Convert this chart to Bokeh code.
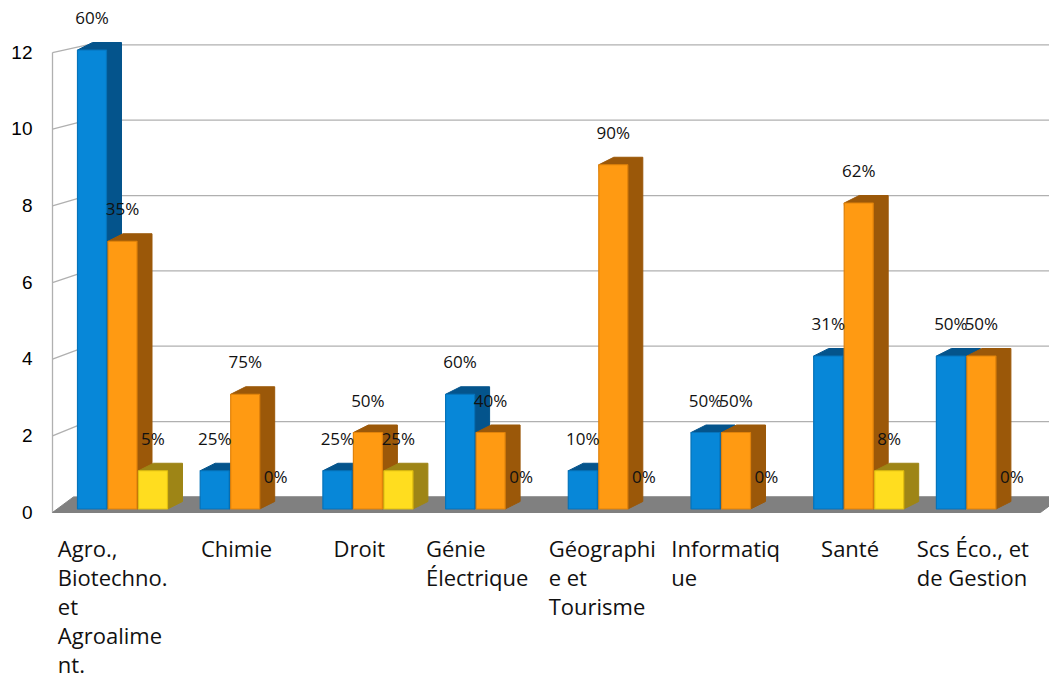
from bokeh.plotting import figure
from bokeh.models import Range1d
from bokeh.core.properties import value
from bokeh.embed import file_html
from bokeh.resources import INLINE

# ---------------- data ----------------
categories = [
    "Agro.,\nBiotechno.\net\nAgroalime\nnt.",
    "Chimie",
    "Droit",
    "Génie\nÉlectrique",
    "Géographi\ne et\nTourisme",
    "Informatiq\nue",
    "Santé",
    "Scs Éco., et\nde Gestion",
]
blue_vals = [12, 1, 1, 3, 1, 2, 4, 4]
orange_vals = [7, 3, 2, 2, 9, 2, 8, 4]
yellow_vals = [1, 0, 1, 0, 0, 0, 1, 0]
y_ticks = [0, 2, 4, 6, 8, 10, 12]

# ---------------- layout / style ----------------
W, H = 1049, 676
SX, SY = 122.7, 38.25            # px per data unit
ORIGIN_X, ORIGIN_Y = 122, 508.5  # px of group-0 centre / bar base
TEXT_SHIFT = 7                   # baseline correction (px)

def ux(px):   # px length -> data x length
    return px / SX

def uy(px):   # px length -> data y length
    return px / SY

def fx(px):   # absolute px -> data x
    return (px - ORIGIN_X) / SX

def fy(px):   # absolute px (from top) -> data y
    return (ORIGIN_Y - px) / SY

FRONT_X, BACK_X = 52, 87
FRONT_Y0, FRONT_K = 512.0, 38.33
BACK_Y0, BACK_K = 496.4, 37.67

BAR_PITCH, BAR_HALF = 30.5, 14.5
DEPTH_X, DEPTH_Y = 15, 7.5

series = [
    (blue_vals, "#0787D8", "#04548C", "#0673BA"),
    (orange_vals, "#FF9A12", "#9B5809", "#E0820A"),
    (yellow_vals, "#FFDD1F", "#9E8516", "#E0BE10"),
]

p = figure(width=W, height=H, output_backend="svg", toolbar_location=None,
           x_axis_type=None, y_axis_type=None,
           x_range=Range1d(fx(0), fx(W)), y_range=Range1d(fy(H), fy(0)),
           min_border=0, min_border_left=0, min_border_right=0,
           min_border_top=0, min_border_bottom=0)
p.outline_line_color = None
p.grid.visible = False
p.background_fill_color = "white"
p.border_fill_color = "white"

# ---------------- walls ----------------
grid_col = "#B0B0B0"
gx0, gy0, gx1, gy1 = [], [], [], []
for v in y_ticks:
    yf = fy(FRONT_Y0 - FRONT_K * v)
    yb = fy(BACK_Y0 - BACK_K * v)
    gx0 += [fx(FRONT_X), fx(BACK_X)]
    gy0 += [yf, yb]
    gx1 += [fx(BACK_X), fx(W + 20)]
    gy1 += [yb, yb]
p.segment(gx0, gy0, gx1, gy1, line_color=grid_col, line_width=1.3)
top_v = max(y_ticks)
p.segment([fx(FRONT_X), fx(BACK_X)],
          [fy(FRONT_Y0), fy(BACK_Y0)],
          [fx(FRONT_X), fx(BACK_X)],
          [fy(FRONT_Y0 - FRONT_K * top_v), fy(BACK_Y0 - BACK_K * top_v)],
          line_color=grid_col, line_width=1.3)

# floor
p.patch([fx(FRONT_X), fx(1040), fx(1061), fx(FRONT_X + 21)],
        [fy(FRONT_Y0), fy(FRONT_Y0), fy(BACK_Y0), fy(BACK_Y0)],
        fill_color="#808080", line_color="#808080")

# ---------------- bars ----------------
lab_x, lab_y, lab_t = [], [], []
for s, (vals, front, dark, edge) in enumerate(series):
    xs_l, ys_l, L, R, T = [], [], [], [], []
    for i, v in enumerate(vals):
        totals = blue_vals[i] + orange_vals[i] + yellow_vals[i]
        cx = i + ux((s - 1) * BAR_PITCH)
        lab_x.append(cx)
        lab_y.append(v + uy(25.5 + TEXT_SHIFT))
        lab_t.append(f"{round(100 * v / totals)}%")
        if v == 0:
            continue
        xl, xr = cx - ux(BAR_HALF), cx + ux(BAR_HALF)
        ddx, ddy = ux(DEPTH_X), uy(DEPTH_Y)
        xs_l.append([xl, xl + ddx, xr + ddx, xr + ddx, xr])
        ys_l.append([v, v + ddy, v + ddy, ddy, 0])
        L.append(xl)
        R.append(xr)
        T.append(v)
    p.patches(xs_l, ys_l, fill_color=dark, line_color=dark, line_width=1)
    p.quad(left=L, right=R, bottom=0, top=T, fill_color=front,
           line_color=edge, line_width=1.2)

# data labels
p.text(lab_x, lab_y, text=lab_t, text_align="center", text_baseline="alphabetic",
       text_font=value("Open Sans"), text_font_size="17px", text_color="#111111")

# ---------------- y labels ----------------
p.text([fx(32)] * len(y_ticks),
       [fy(FRONT_Y0 - FRONT_K * v + 6.5 - TEXT_SHIFT) for v in y_ticks],
       text=[str(v) for v in y_ticks], text_align="right", text_baseline="alphabetic",
       text_font=value("Liberation Sans"), text_font_size="19px", text_color="#000000")

# ---------------- category labels ----------------
LINE_H = 29.0
FIRST_BASE = 554 - TEXT_SHIFT
single = dict(x=[], y=[], t=[])
multi = dict(x=[], y=[], t=[])
for i, lab in enumerate(categories):
    lines = lab.split("\n")
    cx = i - ux(8.65)
    tgt = single if len(lines) == 1 else multi
    for k, ln in enumerate(lines):
        tgt["x"].append(cx)
        tgt["y"].append(fy(FIRST_BASE + k * LINE_H))
        tgt["t"].append(ln)
p.text(single["x"], single["y"], text=single["t"], text_align="center",
       text_baseline="alphabetic", text_font=value("Open Sans"),
       text_font_size="22px", text_color="#111111")
p.text(multi["x"], multi["y"], text=multi["t"], text_align="left", x_offset=-56,
       text_baseline="alphabetic", text_font=value("Open Sans"),
       text_font_size="22px", text_color="#111111")

open("out.html", "w").write(file_html(p, INLINE))
